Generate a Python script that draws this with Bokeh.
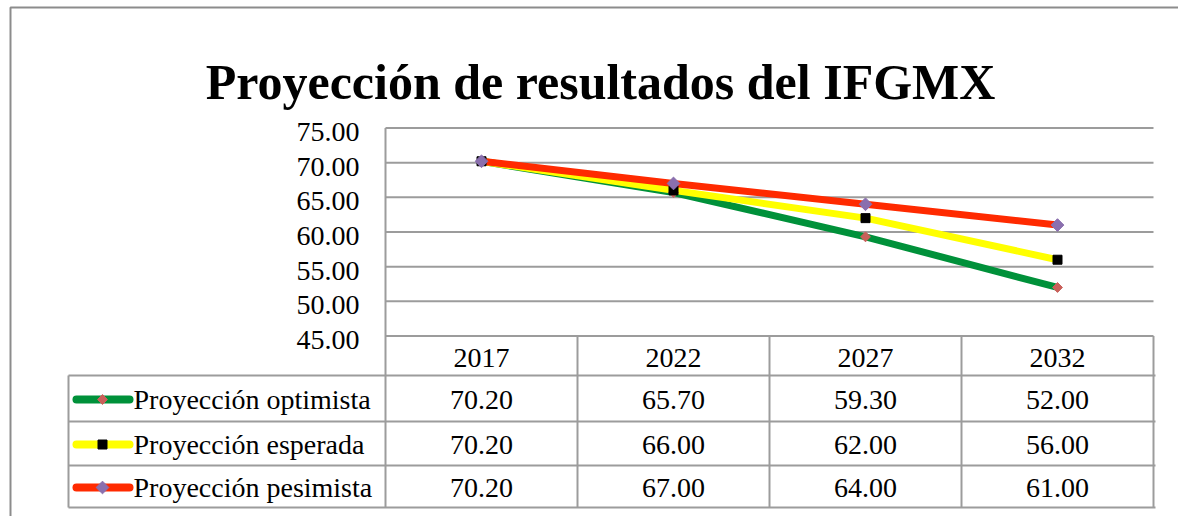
import math
from bokeh.plotting import figure
from bokeh.models import Range1d
from bokeh.embed import file_html
from bokeh.resources import INLINE
from bokeh.core.properties import value

# ---------------- data ----------------
title_text = "Proyección de resultados del IFGMX"
years = ["2017", "2022", "2027", "2032"]
series_names = ["Proyección optimista", "Proyección esperada", "Proyección pesimista"]
optimista = [70.20, 65.70, 59.30, 52.00]
esperada = [70.20, 66.00, 62.00, 56.00]
pesimista = [70.20, 67.00, 64.00, 61.00]
y_ticks = [45, 50, 55, 60, 65, 70, 75]

# ---------------- layout (page pixels) ----------------
PAGE = 0
W, H = 1178, 516
PLOT_L, PLOT_R = 385.0, 1153.0
Y_TOP_PX, Y_BOT_PX = 127.5, 335.5
Y_MIN, Y_MAX = min(y_ticks), max(y_ticks)
COLW = (PLOT_R - PLOT_L) / len(years)
PPU = (Y_BOT_PX - Y_TOP_PX) / (Y_MAX - Y_MIN)


def sx(px):
    return (px - PLOT_L) / COLW


def sy(py):
    return Y_MAX - (py - Y_TOP_PX) / PPU


FONT = value("Liberation Serif")
GRID = "#9c9c9c"

p = figure(width=W, height=H,
           x_range=Range1d(sx(PAGE), sx(PAGE + W)),
           y_range=Range1d(sy(PAGE + H), sy(PAGE)),
           output_backend="svg", toolbar_location=None,
           x_axis_location=None, y_axis_location=None, min_border=0)
p.outline_line_color = None
p.grid.visible = False
p.background_fill_color = "white"
p.border_fill_color = "white"

# outer chart border
p.line(x=[sx(10), sx(10), sx(PAGE + W + 5)], y=[sy(PAGE + H), sy(7), sy(7)],
       line_color="#8c8c8c", line_width=2)

# title
p.text(x=[sx(600)], y=[sy(81)], text=[title_text], text_font=FONT,
       text_font_size="50px", text_font_style="bold", text_color="black",
       text_align="center", text_baseline="alphabetic")

n = len(years)
xs = [i + 0.5 for i in range(n)]

# gridlines
p.segment(x0=[0] * len(y_ticks), x1=[n] * len(y_ticks), y0=y_ticks, y1=y_ticks,
          line_color=GRID, line_width=2)

# y tick labels
p.text(x=[sx(359)] * len(y_ticks), y=y_ticks, text=[f"{v:.2f}" for v in y_ticks],
       text_font=FONT, text_font_size="28px", text_color="black",
       text_align="right", text_baseline="middle", y_offset=4)

# table geometry
TAB_L = 68
HEAD_BOT = 375
ROW_B = [421, 465, 507]
TAB_B = ROW_B[-1]
row_tops = [HEAD_BOT] + ROW_B[:-1]
row_centers = [(a + b) / 2 + 1 for a, b in zip(row_tops, ROW_B)]

# horizontal table lines
hl = [HEAD_BOT] + ROW_B
p.segment(x0=[sx(TAB_L)] * len(hl), x1=[sx(1155)] * len(hl),
          y0=[sy(v) for v in hl], y1=[sy(v) for v in hl],
          line_color=GRID, line_width=2)
# vertical: y-axis line / column dividers
p.segment(x0=[0], x1=[0], y0=[Y_MAX], y1=[sy(TAB_B)], line_color=GRID, line_width=2)
p.segment(x0=list(range(1, n + 1)), x1=list(range(1, n + 1)),
          y0=[Y_MIN] * n, y1=[sy(TAB_B)] * n, line_color=GRID, line_width=2)
p.segment(x0=[sx(TAB_L)], x1=[sx(TAB_L)], y0=[sy(HEAD_BOT)], y1=[sy(TAB_B)],
          line_color=GRID, line_width=2)

# header labels
p.text(x=xs, y=[sy(357)] * n, text=years, text_font=FONT, text_font_size="28px",
       text_color="black", text_align="center", text_baseline="middle")

series = [optimista, esperada, pesimista]
line_colors = ["#00913a", "#ffff00", "#ff2a00"]
marker_kw = [
    dict(marker="square", angle=math.pi / 4, size=7, fill_color="#c9605a", line_color="#c9605a"),
    dict(marker="square", angle=0, size=9, fill_color="black", line_color="black"),
    dict(marker="square", angle=math.pi / 4, size=9, fill_color="#8a6fae", line_color="#8a6fae"),
]

# plot lines
for vals, col in zip(series, line_colors):
    p.line(x=xs, y=vals, line_color=col, line_width=7, line_join="round")
for vals, mk in zip(series, marker_kw):
    p.scatter(x=xs, y=vals, **mk)

# table rows: legend keys, names, values
for r, (name, vals, col, mk) in enumerate(zip(series_names, series, line_colors, marker_kw)):
    yc = sy(row_centers[r])
    p.line(x=[sx(76), sx(129)], y=[yc, yc], line_color=col, line_width=8, line_cap="round")
    p.scatter(x=[sx(102)], y=[yc], **mk)
    p.text(x=[sx(133)], y=[yc], text=[name], text_font=FONT, text_font_size="28px",
           text_color="black", text_align="left", text_baseline="middle")
    p.text(x=xs, y=[yc] * n, text=[f"{v:.2f}" for v in vals], text_font=FONT,
           text_font_size="28px", text_color="black", text_align="center",
           text_baseline="middle")

open("out.html", "w").write(file_html(p, INLINE))
